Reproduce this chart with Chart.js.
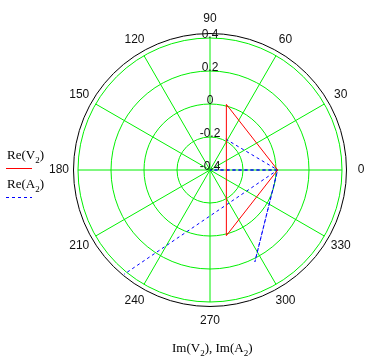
<!DOCTYPE html>
<html>
<head>
<meta charset="utf-8">
<script src="https://cdn.jsdelivr.net/npm/chart.js@4.4.0/dist/chart.umd.min.js"></script>
<style>
html, body { margin: 0; padding: 0; background: #fff; }
#wrap { position: relative; width: 385px; height: 361px; overflow: hidden; }
canvas { position: absolute; left: 0; top: 0; }
.lbl { position: absolute; font-family: "Liberation Serif", "Times New Roman", serif; font-size: 13px; color: #000; white-space: nowrap; line-height: 13px; }
.lbl sub { font-size: 9px; vertical-align: -4px; line-height: 0; }
</style>
</head>
<body>
<div id="wrap">
  <canvas id="polar" width="385" height="361"></canvas>
  <div class="lbl" style="left:7px;top:148px">Re(V<sub>2</sub>)</div>
  <div class="lbl" style="left:7px;top:177px">Re(A<sub>2</sub>)</div>
  <div class="lbl" style="left:172px;top:341px">Im(V<sub>2</sub>), Im(A<sub>2</sub>)</div>
</div>
<script>
// angle axis (degrees) and radius axis
const angleTicks = [0, 30, 60, 90, 120, 150, 180, 210, 240, 270, 300, 330];
const radialTicks = [-0.4, -0.2, 0, 0.2, 0.4];
const rMin = -0.4;
const rMax = 0.4;

// trace 1: angle = Im(V2) in degrees, radius = Re(V2)
const v2Angle = [76, 0, -76, 76];
const v2Re = [0.01, 0.01, 0.01, 0.01];

// trace 2: angle = Im(A2) in degrees, radius = Re(A2)
const a2Angle = [63, 0, 0, 0, -64, 0, -129.5];
const a2Re = [-0.19, 0.01, -0.4, 0.01, 0.22, 0.01, 0.42];

function toXY(angles, radii) {
    return radii.map(function(r, i) {
        const k = (r - rMin) / (rMax - rMin);
        const a = angles[i] * Math.PI / 180;
        return { x: k * Math.cos(a), y: k * Math.sin(a) };
    });
}

const polarGrid = {
    id: 'polarGrid',
    beforeDatasetsDraw(chart) {
        const ctx = chart.ctx;
        const sx = chart.scales.x, sy = chart.scales.y;
        const cx = sx.getPixelForValue(0), cy = sy.getPixelForValue(0);
        const unit = sx.getPixelForValue(1) - cx;
        ctx.save();
        ctx.lineWidth = 1;
        ctx.strokeStyle = '#00f000';
        radialTicks.forEach(function(t) {
            const k = (t - rMin) / (rMax - rMin);
            if (k <= 0) return;
            ctx.beginPath();
            ctx.arc(cx, cy, k * unit, 0, Math.PI * 2);
            ctx.stroke();
        });
        angleTicks.forEach(function(a) {
            const rad = a * Math.PI / 180;
            ctx.beginPath();
            ctx.moveTo(cx, cy);
            ctx.lineTo(sx.getPixelForValue(Math.cos(rad)), sy.getPixelForValue(Math.sin(rad)));
            ctx.stroke();
        });
        ctx.strokeStyle = '#000';
        ctx.beginPath();
        ctx.arc(cx, cy, 1.034 * unit, 0, Math.PI * 2);
        ctx.stroke();
        ctx.restore();
    },
    afterDatasetsDraw(chart) {
        const ctx = chart.ctx;
        const sx = chart.scales.x, sy = chart.scales.y;
        ctx.save();
        ctx.fillStyle = '#111';
        ctx.font = '12px "Liberation Sans", Arial, sans-serif';
        ctx.textAlign = 'center';
        ctx.textBaseline = 'middle';
        radialTicks.forEach(function(t) {
            const k = (t - rMin) / (rMax - rMin);
            ctx.fillText(String(t), sx.getPixelForValue(0), sy.getPixelForValue(k) - 3);
        });
        angleTicks.forEach(function(a) {
            const rad = a * Math.PI / 180;
            ctx.fillText(String(a), sx.getPixelForValue(1.144 * Math.cos(rad)), sy.getPixelForValue(1.144 * Math.sin(rad)));
        });

        // legend samples, mathcad style: label above line
        chart.data.datasets.forEach(function(ds, i) {
            const y = 168.5 + i * 29;
            ctx.strokeStyle = ds.borderColor;
            ctx.lineWidth = 1;
            ctx.setLineDash(ds.borderDash || []);
            ctx.beginPath();
            ctx.moveTo(6, y);
            ctx.lineTo(32, y);
            ctx.stroke();
        });
        ctx.restore();
    }
};

new Chart(document.getElementById('polar'), {
    type: 'scatter',
    data: {
        datasets: [
            {
                label: 'Re(V2)',
                data: toXY(v2Angle, v2Re),
                showLine: true,
                borderColor: '#ff0000',
                borderWidth: 1,
                pointRadius: 0,
                clip: false
            },
            {
                label: 'Re(A2)',
                data: toXY(a2Angle, a2Re),
                showLine: true,
                borderColor: '#0000ff',
                borderWidth: 1,
                borderDash: [3, 3],
                pointRadius: 0,
                clip: false
            }
        ]
    },
    options: {
        responsive: false,
        animation: false,
        devicePixelRatio: 1,
        layout: { padding: { left: 45, right: 10, top: 5, bottom: 26 } },
        scales: {
            x: { type: 'linear', min: -1.25, max: 1.25, display: false },
            y: { type: 'linear', min: -1.25, max: 1.25, display: false }
        },
        plugins: {
            legend: { display: false },
            tooltip: { enabled: false }
        }
    },
    plugins: [polarGrid]
});
</script>
</body>
</html>
